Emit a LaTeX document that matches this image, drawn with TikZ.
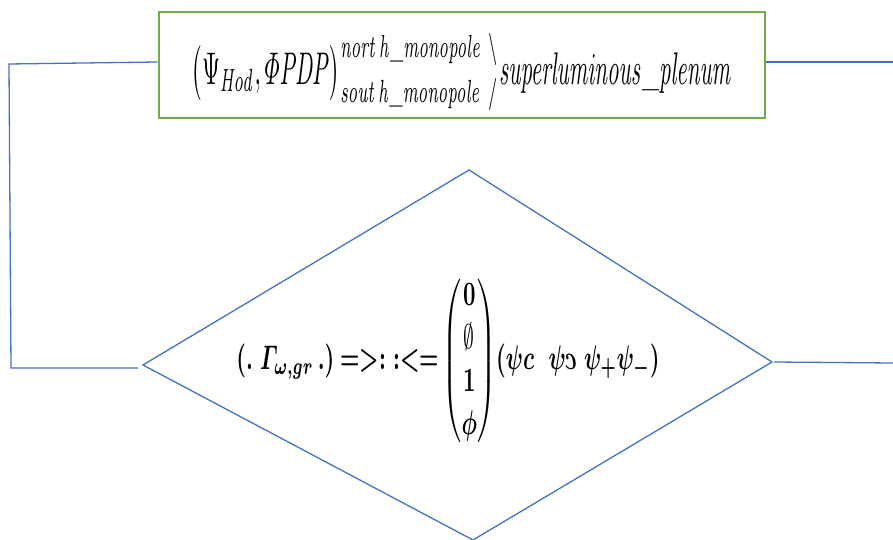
\documentclass[tikz,border=0pt]{standalone}
\usepackage{amsmath,amssymb}
\usepackage{graphicx}
\definecolor{linkblue}{RGB}{68,114,196}
\definecolor{boxgreen}{RGB}{112,173,71}
\tikzset{
  link/.style={draw=linkblue, line width=1.3pt},
  greenbox/.style={draw=boxgreen, line width=2.6pt, fill=white, inner sep=0pt,
    minimum width=606pt, minimum height=106pt},
  mtext/.style={inner sep=0pt, text=black}
}
\begin{document}
\begin{tikzpicture}[x=1pt,y=-1pt]
\useasboundingbox (0,0) rectangle (893,540);
% top box
\node[greenbox] (box) at (462,65) {};
\node[mtext] (boxtext) at (462,72) {\resizebox*{540pt}{78pt}{$\bigl(\Psi_{\mathit{Hod}},\varPhi\mathit{PDP}\bigr)^{\mathit{nort\,h\_monopole}\ \backslash}_{\mathit{sout\,h\_monopole}\ /}\mathit{superluminous\_plenum}$}};
% diamond
\coordinate (dt) at (469,170);
\coordinate (dr) at (772,362);
\coordinate (db) at (473,540);
\coordinate (dl) at (143,365);
\draw[link, line join=miter] (dt) -- (dr) -- (db) -- (dl) -- cycle;
\node[mtext] (dtext) at (448,361) {\resizebox*{423pt}{172pt}{$\boldsymbol{(.\;\varGamma_{\omega,gr}\,.)}\;\textbf{=>:\,\,:<=}\,{\renewcommand{\arraystretch}{1.05}\begin{pmatrix}\mathbf{0}\\ \emptyset\\ \mathbf{1}\\ \boldsymbol{\phi}\end{pmatrix}}\boldsymbol{(\psi c\ \ \psi}\reflectbox{$\boldsymbol{c}$}\ \boldsymbol{\psi_{+}\psi_{-})}$}};
% connectors
\coordinate (lt) at (9,64);
\coordinate (lb) at (11,368);
\coordinate (rt) at (893,62);
\coordinate (rb) at (893,363);
\draw[link] ([yshift=3pt]box.west) -- (lt) -- (lb) -- ([xshift=-5pt,yshift=-3pt]dl);
\draw[link] ([yshift=3pt]box.east) -- (rt);
\draw[link] ([xshift=2pt]dr) -- (rb);
\end{tikzpicture}
\end{document}
